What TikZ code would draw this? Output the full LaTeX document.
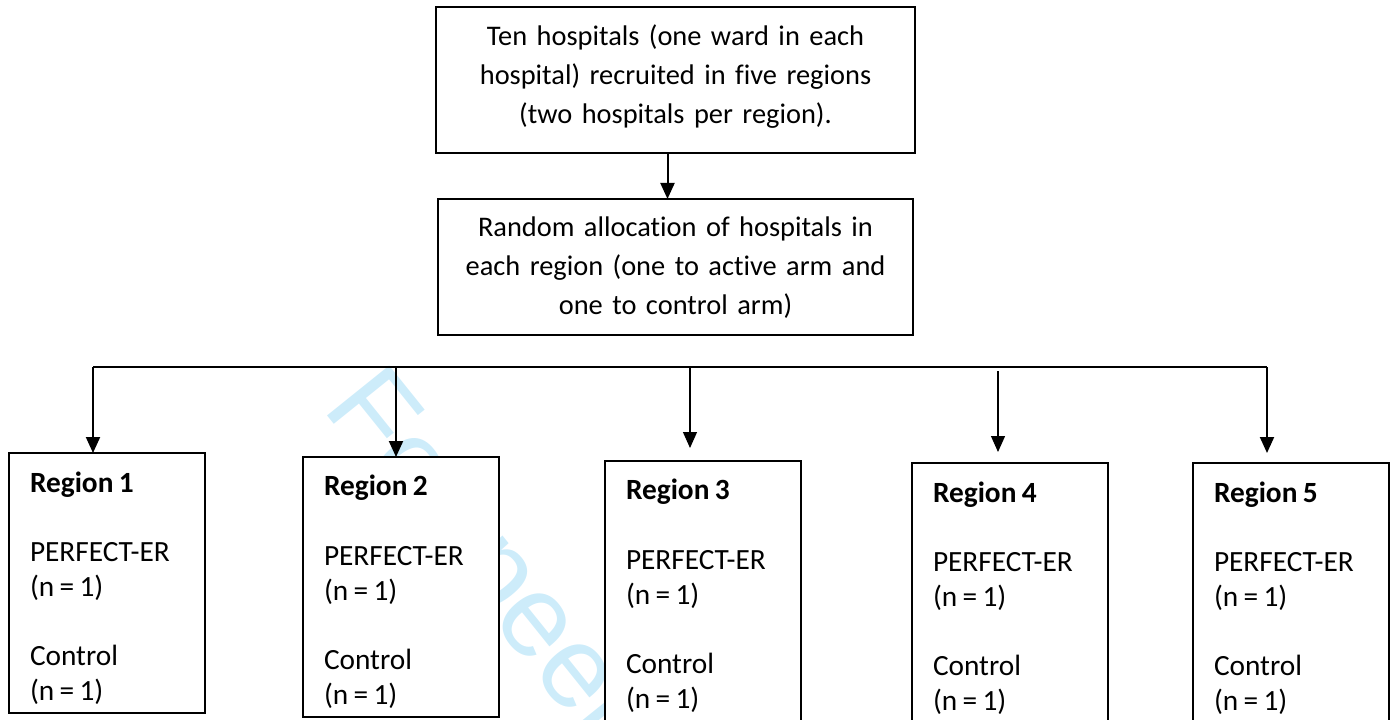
\documentclass[tikz,border=0pt]{standalone}
\usepackage{fontspec}
\setmainfont{Carlito}[Ligatures={NoCommon}]
\newfontfamily\wmfont{Liberation Sans}
\usetikzlibrary{arrows.meta,calc}
\definecolor{wmcyan}{RGB}{205,236,250}
\newcommand{\firststrut}{\rule{0pt}{20pt}}
\newcommand{\narrowsp}{\spaceskip=4pt plus 2pt\relax}
\begin{document}
\begin{tikzpicture}[x=0.75pt,y=-0.75pt,
  every node/.style={inner sep=0pt, outer sep=0pt},
  flowbox/.style={draw=black, line width=1.5pt, fill=white, anchor=north west},
  toptext/.style={anchor=north, text width=#1, align=center, font=\fontsize{21.3}{29.25}\selectfont},
  regtext/.style={anchor=north west, text width=135pt, align=left, font=\fontsize{22}{26.1}\selectfont},
  arr/.style={-{Triangle[width=10.5pt,length=12pt]}, line width=1.5pt},
  thinarr/.style={-{Triangle[width=10.5pt,length=12pt]}, line width=0.9pt},
  barline/.style={line width=1.7pt},
  watermark/.style={rotate=-51.2, anchor=base west, text=wmcyan, font=\wmfont\fontsize{87}{87}\selectfont}
]
\useasboundingbox (0,0) rectangle (1395,720);
\clip (0,0) rectangle (1395,720);

% watermark (beneath everything)
\node[watermark] (wm) at (321,408) {For peer review only};

% top boxes
\node[flowbox, minimum width=359.25pt, minimum height=109.5pt] (top) at (436,7) {};
\node[toptext=359pt] (toptxt) at ($(top.north)+(0,12.33)$)
  {\firststrut Ten hospitals (one ward in each\\ hospital) recruited in five regions\\ (two hospitals per region).};

\node[flowbox, minimum width=356.25pt, minimum height=102pt] (alloc) at (438,199) {};
\node[toptext=356pt] (alloctxt) at ($(alloc.north)+(0,11.33)$)
  {\firststrut Random allocation of hospitals in\\ each region (one to active arm and\\ one to control arm)};

\draw[arr] ($(top.south)+(-8,0)$) -- ($(alloc.north)+(-8,0)$);

% region boxes
\node[flowbox, minimum width=147pt, minimum height=195pt] (r1) at (9,453) {};
\node[flowbox, minimum width=147pt, minimum height=195pt] (r2) at (303,457) {};
\node[flowbox, minimum width=147pt, minimum height=195pt] (r3) at (605,461) {};
\node[flowbox, minimum width=147pt, minimum height=195pt] (r4) at (912,463) {};
\node[flowbox, minimum width=147pt, minimum height=195pt] (r5) at (1193,463) {};

\foreach \r/\n in {r1/1, r2/2, r3/3, r4/4, r5/5}{
  \begin{scope}
    \clip (\r.north west) rectangle ($(\r.south east)+(0,-10)$);
    \node[regtext] (\r txt) at ($(\r.north west)+(21,12.33)$)
      {\narrowsp\firststrut\textbf{Region \n}\\[26.1pt] PERFECT-ER\\ (n = 1)\\[26.1pt] Control\\ (n = 1)};
  \end{scope}
}

% distribution bar and arrows
\coordinate (b1) at (93,367);
\coordinate (b2) at (396,367);
\coordinate (b3) at (690,367);
\coordinate (b4) at (998,371);
\coordinate (b5) at (1267,367);
\draw[barline] (b1) -- (b5);
\draw[arr] (b1) -- (b1 |- r1.north);
\draw[arr] (b2) -- (b2 |- r2.north);
\draw[thinarr] (b3) -- ($(b3 |- r3.north)+(0,-13)$);
\draw[thinarr] (b4) -- ($(b4 |- r4.north)+(0,-11)$);
\draw[arr] (b5) -- ($(b5 |- r5.north)+(0,-10)$);
\end{tikzpicture}
\end{document}
